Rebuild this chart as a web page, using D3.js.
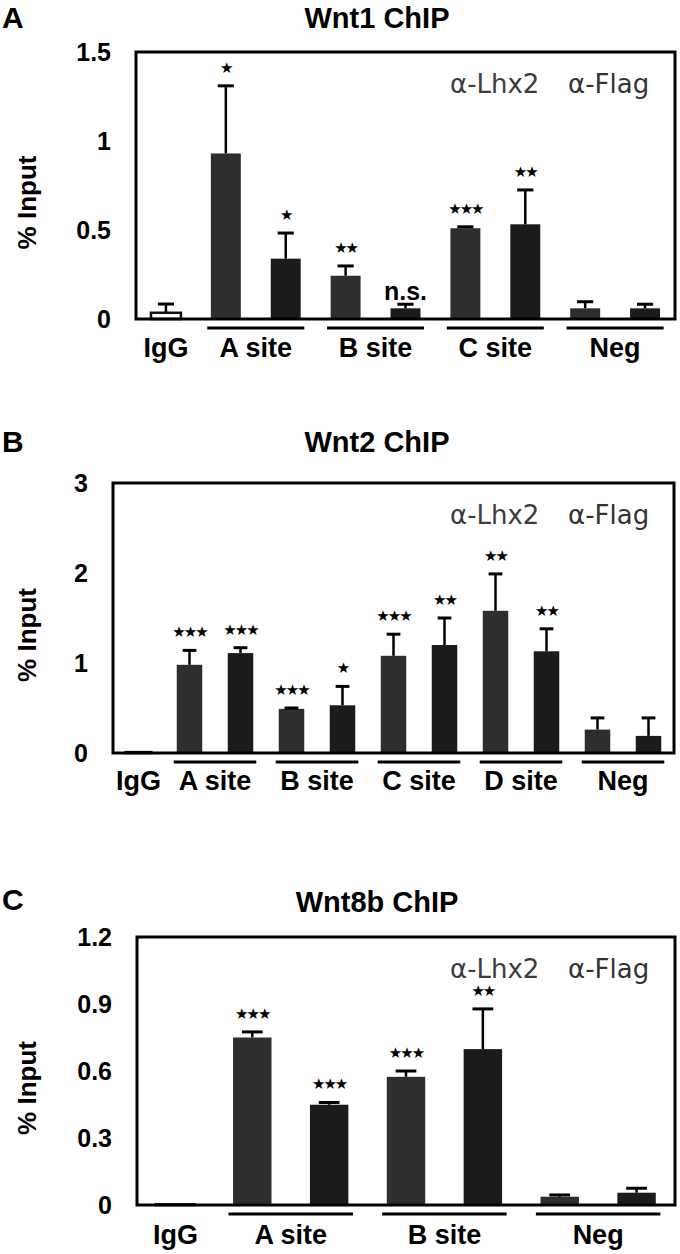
<!DOCTYPE html>
<meta charset="utf-8">
<script src="https://d3js.org/d3.v7.min.js"></script>
<style>
  body { margin: 0; background: #fff; }
  text { font-family: "Liberation Sans", Arial, sans-serif; }
</style>
<div id="chart"></div>
<script>

// ---- data (% input) ----
var series = ["α-Lhx2", "α-Flag"];

// Wnt1 ChIP
var wnt1Groups = ["A site", "B site", "C site", "Neg"];
var wnt1IgG = [0.035, 0.049];                 // value, error
var wnt1Lhx2 = [0.93, 0.243, 0.51, 0.06];
var wnt1Lhx2Err = [0.38, 0.055, 0.008, 0.037];
var wnt1Flag = [0.339, 0.06, 0.532, 0.06];
var wnt1FlagErr = [0.144, 0.023, 0.193, 0.023];
var wnt1Sig = [["*", "*"], ["**", "n.s."], ["***", "**"], ["", ""]];
var wnt1Ticks = [0, 0.5, 1, 1.5];
var wnt1TickLabels = ["0", "0.5", "1", "1.5"];

// Wnt2 ChIP
var wnt2Groups = ["A site", "B site", "C site", "D site", "Neg"];
var wnt2IgG = [0.01, 0];
var wnt2Lhx2 = [0.98, 0.49, 1.08, 1.58, 0.26];
var wnt2Lhx2Err = [0.16, 0.01, 0.24, 0.41, 0.13];
var wnt2Flag = [1.11, 0.53, 1.2, 1.13, 0.19];
var wnt2FlagErr = [0.06, 0.21, 0.3, 0.25, 0.2];
var wnt2Sig = [["***", "***"], ["***", "*"], ["***", "**"], ["**", "**"], ["", ""]];
var wnt2Ticks = [0, 1, 2, 3];
var wnt2TickLabels = ["0", "1", "2", "3"];

// Wnt8b ChIP
var wnt8bGroups = ["A site", "B site", "Neg"];
var wnt8bIgG = [0.003, 0];
var wnt8bLhx2 = [0.75, 0.574, 0.037];
var wnt8bLhx2Err = [0.025, 0.026, 0.008];
var wnt8bFlag = [0.449, 0.698, 0.055];
var wnt8bFlagErr = [0.01, 0.18, 0.02];
var wnt8bSig = [["***", "***"], ["***", "**"], ["", ""]];
var wnt8bTicks = [0, 0.3, 0.6, 0.9, 1.2];
var wnt8bTickLabels = ["0", "0.3", "0.6", "0.9", "1.2"];

var colors = { "α-Lhx2": "#2e2e2e", "α-Flag": "#1b1b1b" };
var legendColors = { "α-Lhx2": "#3c3c3c", "α-Flag": "#333333" };

var svg = d3.select("#chart").append("svg")
  .attr("width", 680)
  .attr("height", 1254);

// build flat bar list for one panel
function makeBars(groups, igg, lhx2, lhx2Err, flag, flagErr, sig) {
  var bars = [{ key: "IgG", group: "IgG", series: "IgG", value: igg[0], err: igg[1], sig: "" }];
  groups.forEach(function(g, i) {
    bars.push({ key: g + "|Lhx2", group: g, series: series[0], value: lhx2[i], err: lhx2Err[i], sig: sig[i][0] });
    bars.push({ key: g + "|Flag", group: g, series: series[1], value: flag[i], err: flagErr[i], sig: sig[i][1] });
  });
  return bars;
}

function drawPanel(p) {
  var g = svg.append("g");
  var bars = makeBars(p.groups, p.igg, p.lhx2, p.lhx2Err, p.flag, p.flagErr, p.sig);

  var x = d3.scaleBand()
    .domain(bars.map(function(d) { return d.key; }))
    .range([p.left, p.right])
    .paddingInner(0.5)
    .paddingOuter(0.25);

  var y = d3.scaleLinear()
    .domain([0, p.ymax])
    .range([p.bottom, p.top]);

  var step = x.step();
  var bw = x.bandwidth();

  // panel letter and title
  g.append("text")
    .attr("x", 2).attr("y", p.letterY)
    .attr("font-size", "30px").attr("font-weight", "bold")
    .text(p.letter);

  g.append("text")
    .attr("x", 377).attr("y", p.titleY)
    .attr("text-anchor", "middle")
    .attr("font-size", "29px").attr("font-weight", "bold")
    .text(p.title);

  // y axis tick labels (no tick marks)
  var yAxis = d3.axisLeft(y)
    .tickValues(p.ticks)
    .tickSize(0)
    .tickPadding(25)
    .tickFormat(function(d, i) { return p.tickLabels[i]; });

  var ax = g.append("g")
    .attr("transform", "translate(" + p.left + ",0)")
    .call(yAxis);
  ax.select(".domain").remove();
  ax.selectAll("text")
    .attr("font-family", "Liberation Sans, Arial, sans-serif")
    .attr("font-size", "25px")
    .attr("font-weight", "bold")
    .attr("fill", "#000");

  g.append("text")
    .attr("transform", "translate(36," + ((p.top + p.bottom) / 2 + 17) + ") rotate(-90)")
    .attr("text-anchor", "middle")
    .attr("font-size", "26px").attr("font-weight", "bold")
    .text("% Input");

  // bars
  g.selectAll("rect.bar")
    .data(bars)
    .enter().append("rect")
      .attr("class", "bar")
      .attr("x", function(d) { return x(d.key); })
      .attr("y", function(d) { return y(d.value); })
      .attr("width", bw)
      .attr("height", function(d) { return p.bottom - y(d.value); })
      .attr("fill", function(d) { return d.series == "IgG" ? "#fff" : colors[d.series]; })
      .attr("stroke", function(d) { return d.series == "IgG" ? "#111" : "none"; })
      .attr("stroke-width", 2.5);

  // error bars (upper only)
  var errBars = bars.filter(function(d) { return d.err > 0; });
  var capW = step * 0.27;
  g.selectAll("line.err")
    .data(errBars)
    .enter().append("line")
      .attr("class", "err")
      .attr("x1", function(d) { return x(d.key) + bw / 2; })
      .attr("x2", function(d) { return x(d.key) + bw / 2; })
      .attr("y1", function(d) { return y(d.value); })
      .attr("y2", function(d) { return y(d.value + d.err); })
      .attr("stroke", "#000").attr("stroke-width", 2.5);
  g.selectAll("line.cap")
    .data(errBars)
    .enter().append("line")
      .attr("class", "cap")
      .attr("x1", function(d) { return x(d.key) + bw / 2 - capW / 2; })
      .attr("x2", function(d) { return x(d.key) + bw / 2 + capW / 2; })
      .attr("y1", function(d) { return y(d.value + d.err); })
      .attr("y2", function(d) { return y(d.value + d.err); })
      .attr("stroke", "#000").attr("stroke-width", 3);

  // significance marks
  g.selectAll("text.sig")
    .data(bars.filter(function(d) { return d.sig != ""; }))
    .enter().append("text")
      .attr("class", "sig")
      .attr("x", function(d) { return x(d.key) + bw / 2; })
      .attr("y", function(d) {
        var top = y(d.value + d.err);
        return d.sig == "n.s." ? top - 4 : top - 13;
      })
      .attr("text-anchor", "middle")
      .attr("font-weight", "bold")
      .attr("font-size", function(d) { return d.sig == "n.s." ? "25px" : "15px"; })
      .style("font-family", function(d) { return d.sig == "n.s." ? "Liberation Sans, Arial, sans-serif" : "DejaVu Sans, sans-serif"; })
      .style("letter-spacing", function(d) { return d.sig == "n.s." ? "0px" : "-2px"; })
      .text(function(d) { return d.sig == "n.s." ? d.sig : d.sig.replace(/\*/g, "\u2605"); });

  // frame
  g.append("rect")
    .attr("x", p.left).attr("y", p.top)
    .attr("width", p.right - p.left).attr("height", p.bottom - p.top)
    .attr("fill", "none").attr("stroke", "#000").attr("stroke-width", 3);

  // group underlines and x labels
  var groupCenters = p.groups.map(function(gr) {
    var a = x(gr + "|Lhx2"), b = x(gr + "|Flag") + bw;
    return { name: gr, cx: (a + b) / 2 };
  });

  g.selectAll("line.under")
    .data(groupCenters)
    .enter().append("line")
      .attr("class", "under")
      .attr("x1", function(d) { return d.cx - step * 0.81; })
      .attr("x2", function(d) { return d.cx + step * 0.81; })
      .attr("y1", p.bottom + 9).attr("y2", p.bottom + 9)
      .attr("stroke", "#000").attr("stroke-width", 3);

  var labels = [{ name: "IgG", cx: x("IgG") + bw / 2 }].concat(groupCenters);
  g.selectAll("text.xlab")
    .data(labels)
    .enter().append("text")
      .attr("class", "xlab")
      .attr("x", function(d) { return d.cx; })
      .attr("y", p.bottom + p.labelDy)
      .attr("text-anchor", "middle")
      .attr("font-size", "27px").attr("font-weight", "bold")
      .text(function(d) { return d.name; });

  // legend text (coloured words, top right)
  g.selectAll("text.leg")
    .data(series)
    .enter().append("text")
      .attr("class", "leg")
      .attr("x", function(d, i) { return i == 0 ? 450 : 568; })
      .attr("y", p.top + 41)
      .style("font-family", "DejaVu Sans, sans-serif")
      .attr("font-size", "26px")
      .attr("fill", function(d) { return legendColors[d]; })
      .text(function(d) { return d; });
}

drawPanel({
  letter: "A", title: "Wnt1 ChIP", letterY: 28, titleY: 28,
  groups: wnt1Groups, igg: wnt1IgG, lhx2: wnt1Lhx2, lhx2Err: wnt1Lhx2Err,
  flag: wnt1Flag, flagErr: wnt1FlagErr, sig: wnt1Sig,
  ticks: wnt1Ticks, tickLabels: wnt1TickLabels, ymax: 1.5,
  left: 136, right: 675, top: 52, bottom: 319, labelDy: 38
});

drawPanel({
  letter: "B", title: "Wnt2 ChIP", letterY: 452, titleY: 452,
  groups: wnt2Groups, igg: wnt2IgG, lhx2: wnt2Lhx2, lhx2Err: wnt2Lhx2Err,
  flag: wnt2Flag, flagErr: wnt2FlagErr, sig: wnt2Sig,
  ticks: wnt2Ticks, tickLabels: wnt2TickLabels, ymax: 3,
  left: 113, right: 674, top: 483, bottom: 753, labelDy: 37
});

drawPanel({
  letter: "C", title: "Wnt8b ChIP", letterY: 910, titleY: 912,
  groups: wnt8bGroups, igg: wnt8bIgG, lhx2: wnt8bLhx2, lhx2Err: wnt8bLhx2Err,
  flag: wnt8bFlag, flagErr: wnt8bFlagErr, sig: wnt8bSig,
  ticks: wnt8bTicks, tickLabels: wnt8bTickLabels, ymax: 1.2,
  left: 137, right: 675, top: 937, bottom: 1205, labelDy: 39
});

</script>
